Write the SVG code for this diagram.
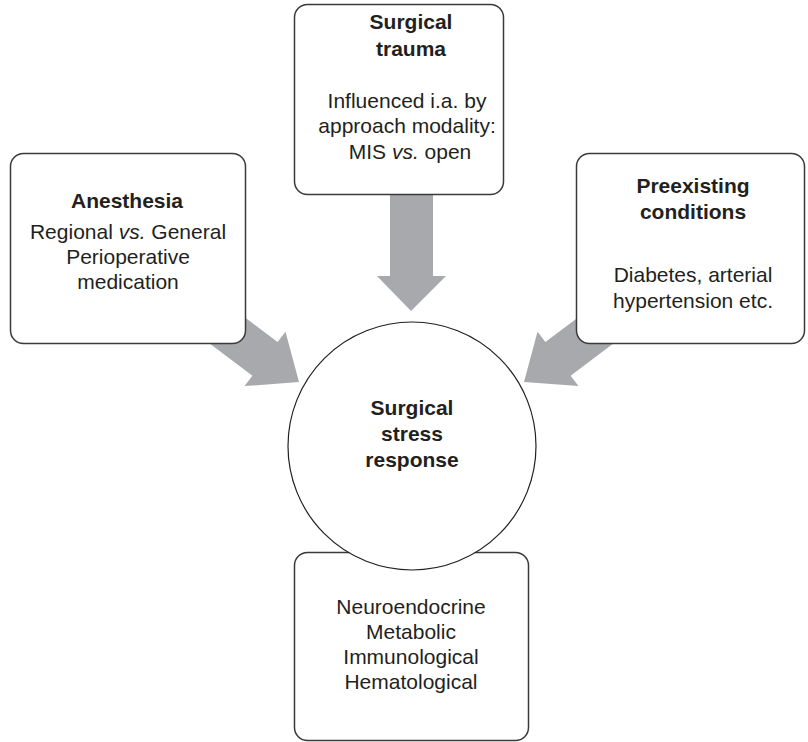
<svg xmlns="http://www.w3.org/2000/svg" width="808" height="742" viewBox="0 0 808 742">
<style>
.box{fill:#fff;stroke:#3a3a3a;stroke-width:1.5}
.circ{fill:#fff;stroke:#231f20;stroke-width:1.2}
.arrow{fill:#a7a9ac;stroke:none}
text{font-family:"Liberation Sans",Arial,Helvetica,sans-serif;font-size:21px;fill:#231f20;text-anchor:middle}
.t{font-weight:bold}
.i{font-style:italic}
</style>
<rect width="808" height="742" fill="#fff"/>
<g id="connectors">
<polygon class="arrow" points="390,150 433,150 433,276 446,276 411,311 377,276 390,276"/>
<polygon class="arrow" points="181.8,269.9 277.6,342.1 285.5,331.7 299,382 244.5,386.1 252.4,375.7 156.6,303.5"/>
<polygon class="arrow" points="641.2,269.9 545.4,342.1 537.5,331.7 524,382 578.5,386.1 570.6,375.7 666.4,303.5"/>
</g>
<g id="surgical-trauma">
<rect class="box" x="294.5" y="4.5" width="209" height="190" rx="13"/>
<text class="t" x="411" y="29">Surgical</text>
<text class="t" x="411" y="56">trauma</text>
<text x="407" y="108">Influenced i.a. by</text>
<text x="407" y="133">approach modality:</text>
<text x="410" y="159">MIS <tspan class="i">vs.</tspan> open</text>
</g>
<g id="anesthesia">
<rect class="box" x="10.5" y="153.5" width="235" height="190" rx="13"/>
<text class="t" x="127" y="208">Anesthesia</text>
<text x="128" y="239">Regional <tspan class="i">vs.</tspan> General</text>
<text x="128" y="264">Perioperative</text>
<text x="128" y="289">medication</text>
</g>
<g id="preexisting">
<rect class="box" x="576.5" y="153.5" width="228" height="190" rx="13"/>
<text class="t" x="693" y="193">Preexisting</text>
<text class="t" x="693" y="219">conditions</text>
<text x="693" y="282">Diabetes, arterial</text>
<text x="693" y="308">hypertension etc.</text>
</g>
<g id="outcomes">
<rect class="box" x="294.5" y="552.5" width="234" height="188" rx="13"/>
<text x="411" y="614">Neuroendocrine</text>
<text x="411" y="639">Metabolic</text>
<text x="411" y="664">Immunological</text>
<text x="411" y="689">Hematological</text>
</g>
<g id="stress-response">
<circle class="circ" cx="412" cy="446" r="124"/>
<text class="t" x="412" y="415">Surgical</text>
<text class="t" x="412" y="441">stress</text>
<text class="t" x="412" y="467">response</text>
</g>
</svg>
